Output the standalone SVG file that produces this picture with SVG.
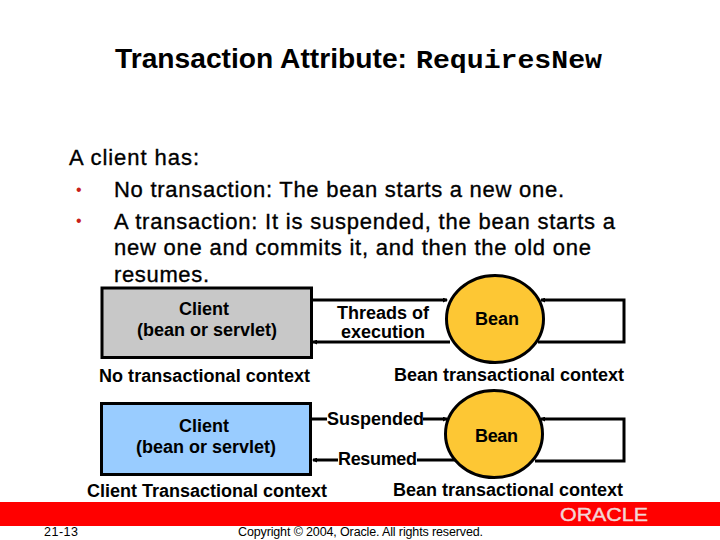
<svg xmlns="http://www.w3.org/2000/svg" width="720" height="540" viewBox="0 0 720 540">
<style>
text{font-family:"Liberation Sans",Arial,sans-serif;fill:#000}
.b{font-size:22px;stroke:#000;stroke-width:.35}
.d{font-size:16px;fill:#c8201c}
.l{font-size:18px;font-weight:bold}
.c{fill:none;stroke:#000;stroke-width:3}
.n{stroke:#000;stroke-width:3}
.f{font-size:12.500px}
</style>
<defs><marker id="a" markerWidth="5" markerHeight="5" refX="4" refY="2.5" orient="auto" markerUnits="userSpaceOnUse"><path d="M0 0L5 2.5L0 5z" fill="#000"/></marker></defs>
<rect width="720" height="540" fill="#fff"/>
<text x="115" y="68" font-size="27" font-weight="bold" textLength="292" lengthAdjust="spacingAndGlyphs">Transaction Attribute:</text>
<text x="416" y="68" font-size="26" font-weight="bold" style="font-family:'Liberation Mono',monospace" textLength="186" lengthAdjust="spacingAndGlyphs">RequiresNew</text>
<text class="b" x="69" y="164.500" textLength="130">A client has:</text>
<text class="d" x="76" y="195">•</text><text class="b" x="114" y="196.500" textLength="450">No transaction: The bean starts a new one.</text>
<text class="d" x="76" y="226">•</text><text class="b" x="114" y="228.500" textLength="501">A transaction: It is suspended, the bean starts a</text>
<text class="b" x="114" y="255" textLength="477">new one and commits it, and then the old one</text>
<text class="b" x="114" y="282" textLength="95">resumes.</text>
<g id="connectors">
<path class="c" d="M312 300H447" marker-end="url(#a)"/>
<path class="c" d="M450 342H313" marker-end="url(#a)"/>
<path class="c" d="M538 342H624V300H541" marker-end="url(#a)"/>
<path class="c" d="M311 419H327M423 419H447" marker-end="url(#a)"/>
<path class="c" d="M338 460H313" marker-end="url(#a)"/>
<path class="c" d="M417 460H455"/>
<path class="c" d="M535 461H624V419H541" marker-end="url(#a)"/>
</g>
<g id="client1"><rect class="n" x="102" y="288" width="209.500" height="69.500" fill="#c8c8c8"/>
<text class="l" x="179" y="314.500" textLength="50">Client</text><text class="l" x="137" y="335.500" textLength="140">(bean or servlet)</text></g>
<text class="l" x="99" y="381.500" textLength="211">No transactional context</text>
<g id="client2"><rect class="n" x="101.500" y="403.500" width="209" height="71" fill="#99ccff"/>
<text class="l" x="179" y="431.500" textLength="50">Client</text><text class="l" x="136" y="452.500" textLength="140">(bean or servlet)</text></g>
<text class="l" x="87" y="496.500" textLength="240">Client Transactional context</text>
<g id="bean1"><ellipse class="n" cx="495" cy="319" rx="48.500" ry="43.500" fill="#fdc734"/><text class="l" x="475" y="324.500" textLength="44">Bean</text></g>
<text class="l" x="394" y="380.500" textLength="230">Bean transactional context</text>
<g id="bean2"><ellipse class="n" cx="494" cy="434" rx="48.500" ry="43.500" fill="#fdc734"/><text class="l" x="475" y="441.500" textLength="43">Bean</text></g>
<text class="l" x="393" y="495.500" textLength="230">Bean transactional context</text>
<text class="l" x="337" y="318.500" textLength="92">Threads of</text><text class="l" x="341" y="338" textLength="84">execution</text>
<text class="l" x="327" y="424.500" textLength="97">Suspended</text><text class="l" x="338" y="464.500" textLength="79">Resumed</text>
<rect id="band" y="502" width="720" height="24" fill="#ff0000"/>
<text x="560" y="520.500" font-size="19" style="fill:#f3d6d6;stroke:#f3d6d6;stroke-width:.4" textLength="88" lengthAdjust="spacingAndGlyphs">ORACLE</text>
<text class="f" x="44" y="536" textLength="34">21-13</text>
<text class="f" x="238" y="536" textLength="245">Copyright © 2004, Oracle.  All rights reserved.</text>
</svg>
